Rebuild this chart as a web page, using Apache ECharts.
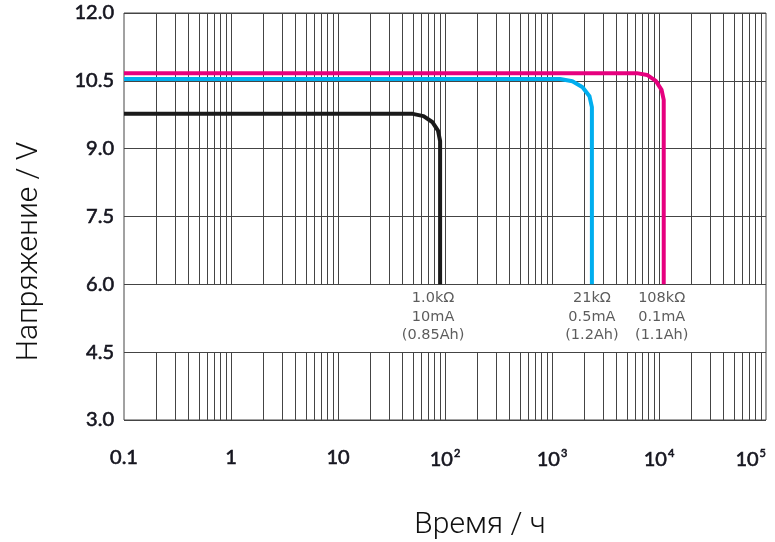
<!DOCTYPE html>
<html>
<head>
<meta charset="utf-8">
<script src="https://cdn.jsdelivr.net/npm/echarts@6/dist/echarts.min.js"></script>
<style>html,body{margin:0;padding:0;background:#fff;}#c{width:775px;height:542px;}</style>
</head>
<body>
<div id="c"></div>
<script>
// ---- data ----
var xTickLabels = ['0.1', '1', '10', '10^2', '10^3', '10^4', '10^5'];
var yTickValues = [3.0, 4.5, 6.0, 7.5, 9.0, 10.5, 12.0];

// 1.0 kΩ load, 10 mA
var load1k = [[0.1, 9.77], [50, 9.77], [63, 9.72], [76, 9.59], [86, 9.40], [90, 9.17], [90, 6.0]];
// 21 kΩ load, 0.5 mA
var load21k = [[0.1, 10.54], [1190, 10.54], [1550, 10.49], [1930, 10.36], [2240, 10.16], [2360, 9.92], [2360, 6.0]];
// 108 kΩ load, 0.1 mA
var load108k = [[0.1, 10.67], [6190, 10.67], [7730, 10.63], [9330, 10.50], [10570, 10.30], [11070, 10.08], [11070, 6.0]];

var label1k = '1.0kΩ\n10mA\n(0.85Ah)';
var label21k = '21kΩ\n0.5mA\n(1.2Ah)';
var label108k = '108kΩ\n0.1mA\n(1.1Ah)';

// gap in the vertical grid (label band)
var bandLow = 4.5, bandHigh = 6.0, yMin = 3.0, yMax = 12.0;

// vertical log grid lines 0.2 .. 90000 (1..9 per decade)
var gridX = [];
[0.1, 1, 10, 100, 1000, 10000].forEach(function (d) {
  for (var m = 1; m <= 9; m++) {
    var v = d * m;
    if (v > 0.1) gridX.push(+v.toPrecision(3));
  }
});
var gridLines = [];
gridX.forEach(function (v) {
  gridLines.push([{ coord: [v, bandHigh] }, { coord: [v, yMax] }]);
  gridLines.push([{ coord: [v, yMin] }, { coord: [v, bandLow] }]);
});

function endLabel(data, text, dx) {
  var p = data[data.length - 1];
  return {
    value: p,
    label: {
      show: true, position: 'bottom', distance: 5, offset: [dx, 0],
      formatter: text, fontFamily: 'DejaVu Sans', fontSize: 14.5,
      lineHeight: 18.5, color: '#333', align: 'center'
    }
  };
}

var tickText = { fontFamily: 'Lato', fontSize: 20, fontWeight: 'normal', color: '#15151f',
  textBorderColor: '#15151f', textBorderWidth: 0.6 };

var chart = echarts.init(document.getElementById('c'), null, { renderer: 'canvas' });
chart.setOption({
  animation: false,
  backgroundColor: '#fff',
  grid: { left: 124, right: 9, top: 13, bottom: 122, show: true, borderColor: '#444', borderWidth: 1,
    backgroundColor: 'transparent', containLabel: false, outerBoundsMode: 'none' },
  xAxis: {
    type: 'log', logBase: 10, min: 0.1, max: 100000,
    name: 'Время / ч', nameLocation: 'middle', nameGap: 90,
    nameTextStyle: { fontFamily: 'Roboto', fontWeight: 300, fontSize: 30, color: '#111', padding: [0, 0, 0, 70] },
    axisLine: { show: false }, axisTick: { show: false },
    splitLine: { show: false }, minorSplitLine: { show: false },
    axisLabel: Object.assign({
      margin: 28, alignMaxLabel: 'right',
      formatter: function (v) {
        var i = Math.round(Math.log10(v)) + 1;
        var s = xTickLabels[i] || '';
        if (s.indexOf('^') > 0) { var p = s.split('^'); return p[0] + '{sup|' + p[1] + '}'; }
        return s;
      },
      rich: { sup: { fontFamily: 'Lato', fontSize: 11, color: '#15151f', padding: [0, 0, 12, 1] } }
    }, tickText)
  },
  yAxis: {
    type: 'value', min: yMin, max: yMax, interval: 1.5,
    name: 'Напряжение / V', nameLocation: 'middle', nameGap: 80, nameRotate: 90,
    nameTextStyle: { fontFamily: 'Roboto', fontWeight: 300, fontSize: 30, color: '#111', padding: [0, 70, 0, 0] },
    axisLine: { show: false }, axisTick: { show: false },
    splitLine: { show: true, lineStyle: { color: '#444', width: 1 } },
    axisLabel: Object.assign({
      margin: 10,
      formatter: function (v) { return v.toFixed(1); }
    }, tickText)
  },
  series: [
    {
      type: 'line', data: [], z: 1, silent: true,
      markLine: { silent: true, symbol: ['none', 'none'], label: { show: false },
        lineStyle: { color: '#444', width: 1, type: 'solid' }, emphasis: { disabled: true },
        data: gridLines }
    },
    { type: 'line', data: load1k, showSymbol: false, symbol: 'none', z: 5,
      lineStyle: { color: '#1a1a1a', width: 4, join: 'round' } },
    { type: 'line', data: load21k, showSymbol: false, symbol: 'none', z: 5,
      lineStyle: { color: '#00aeef', width: 4, join: 'round' } },
    { type: 'line', data: load108k, showSymbol: false, symbol: 'none', z: 6,
      lineStyle: { color: '#e6007e', width: 4, join: 'round' } },
    { type: 'scatter', symbolSize: 0, z: 7, silent: true,
      data: [endLabel(load1k, label1k, -7), endLabel(load21k, label21k, 0), endLabel(load108k, label108k, -2)] }
  ]
});
</script>
</body>
</html>
